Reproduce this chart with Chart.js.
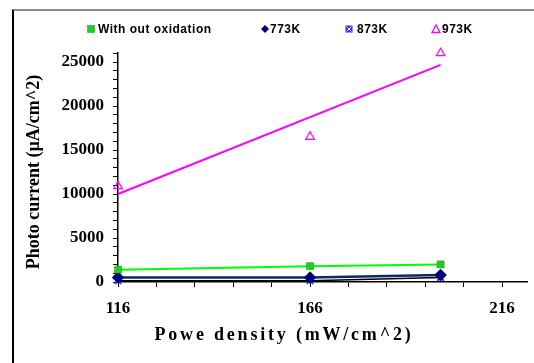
<!DOCTYPE html>
<html><head><meta charset="utf-8">
<script src="https://cdn.jsdelivr.net/npm/chart.js@4"></script>
<style>
html,body{margin:0;padding:0;background:#fff;overflow:hidden}
#frame{position:absolute;left:12px;top:9px;width:522px;height:354px;border-top:2px solid #8a8a8a;border-left:2px solid #000;box-sizing:border-box}
#wrap{position:absolute;left:12px;top:10px;width:522px;height:353px}
</style></head><body>
<div id="frame"></div>
<div id="wrap"><canvas id="c"></canvas></div>
<script>
const powerDensity = [116, 166, 200];
const withoutOxidation = [1400, 1800, 2000];
const k773 = [500, 500, 800];
const k873 = [150, 150, 500];
const k973 = [10900, 16500, 26000];
const xTickValues = [116, 166, 216];
const yTickValues = [0, 5000, 10000, 15000, 20000, 25000];
const seriesNames = ['With out oxidation', '773K', '873K', '973K'];
const xTitle = 'Powe density (mW/cm^2)';
const yTitle = 'Photo current (\u00b5A/cm^2)';

// linear trendline for 973K (least squares)
function fit(xs, ys){
  const n = xs.length, mx = xs.reduce((a,b)=>a+b)/n, my = ys.reduce((a,b)=>a+b)/n;
  let sxy=0, sxx=0; xs.forEach((x,i)=>{sxy+=(x-mx)*(ys[i]-my); sxx+=(x-mx)**2;});
  const m = sxy/sxx; return x => my + m*(x-mx);
}
const f973 = fit(powerDensity, k973);
const trendX = [powerDensity[0], powerDensity[powerDensity.length-1]];

const pts = a => powerDensity.map((x,i)=>({x, y:a[i]}));

const legendPlugin = {
  id:'customLegend',
  afterDraw(chart){
    const ctx = chart.ctx; ctx.save();
    ctx.font = 'bold 12px "Liberation Sans", Arial, sans-serif';
    ctx.letterSpacing = '0.5px';
    ctx.textBaseline = 'middle'; ctx.fillStyle = '#000';
    const y = 19;
    const items = [
      {mx:79, tx:86, draw:(x)=>{ctx.fillStyle='#22cc22';ctx.fillRect(x-3.5,y-3.5,7,7);ctx.strokeStyle='#119911';ctx.lineWidth=0.5;ctx.strokeRect(x-3.5,y-3.5,7,7);}},
      {mx:253, tx:258, draw:(x)=>{ctx.fillStyle='#000080';ctx.beginPath();ctx.moveTo(x,y-4);ctx.lineTo(x+4,y);ctx.lineTo(x,y+4);ctx.lineTo(x-4,y);ctx.closePath();ctx.fill();}},
      {mx:337, tx:345, draw:(x)=>{ctx.fillStyle='#2a2aff';ctx.fillRect(x-3.5,y-3.5,7,7);ctx.strokeStyle='#fff';ctx.lineWidth=1;ctx.beginPath();ctx.moveTo(x-2.5,y-2.5);ctx.lineTo(x+2.5,y+2.5);ctx.moveTo(x+2.5,y-2.5);ctx.lineTo(x-2.5,y+2.5);ctx.stroke();}},
      {mx:424, tx:430, draw:(x)=>{ctx.strokeStyle='#ff00ff';ctx.lineWidth=1.3;ctx.beginPath();ctx.moveTo(x,y-4);ctx.lineTo(x+4,y+3.5);ctx.lineTo(x-4,y+3.5);ctx.closePath();ctx.stroke();}}
    ];
    items.forEach((it,i)=>{ctx.save();it.draw(it.mx);ctx.restore();ctx.fillStyle='#000';ctx.fillText(seriesNames[i], it.tx, y+0.5);});
    // axis titles
    ctx.font = 'bold 18px "Liberation Serif", "Times New Roman", serif';
    ctx.letterSpacing = '2.8px';
    ctx.textAlign = 'center';
    ctx.fillText(xTitle, 272, 325);
    ctx.save();
    ctx.translate(22, 162); ctx.rotate(-Math.PI/2);
    ctx.letterSpacing = '0px';
    ctx.font = 'bold 18px "Liberation Serif", "Times New Roman", serif';
    ctx.fillText(yTitle, 0, 0);
    ctx.restore();
    ctx.restore();
  }
};

new Chart(document.getElementById('c'), {
  type:'scatter',
  data:{datasets:[
    {label:seriesNames[3]+' trend', data:trendX.map(x=>({x,y:f973(x)})), showLine:true, borderColor:'#ff00ff', borderWidth:2, pointRadius:0, order:5, clip:false},
    {label:seriesNames[0], data:pts(withoutOxidation), showLine:true, borderColor:'#00ff00', borderWidth:2, pointStyle:'rect', pointRadius:5, pointBackgroundColor:'#22cc22', pointBorderColor:'#119911', pointBorderWidth:0.5, clip:false},
    {label:seriesNames[1], data:pts(k773), showLine:true, borderColor:'#0a2a6a', borderWidth:2.5, pointStyle:'rectRot', pointRadius:4.5, pointBackgroundColor:'#000080', pointBorderColor:'#000080', clip:false},
    {label:seriesNames[2], data:pts(k873), showLine:true, borderColor:'#000000', borderWidth:1.5, pointStyle:'crossRot', pointRadius:4.5, pointBorderColor:'#2a2aff', pointBorderWidth:2, clip:false},
    {label:seriesNames[3], data:pts(k973), showLine:false, pointStyle:'triangle', pointRadius:5, pointBackgroundColor:'rgba(0,0,0,0)', pointBorderColor:'#ff00ff', pointBorderWidth:1.2, clip:false}
  ]},
  options:{
    responsive:true, maintainAspectRatio:false, animation:false,
    layout:{padding:{top:43.2, left:0, right:0, bottom:0}},
    plugins:{legend:{display:false}, tooltip:{enabled:false}},
    scales:{
      x:{type:'linear', min:116, max:222.5,
        afterBuildTicks(s){const t=[];for(let v=116;v<=216;v+=10)t.push({value:v});s.ticks=t;},
        afterFit(s){s.height=81;},
        border:{display:true,color:'#000',width:1.5},
        grid:{drawOnChartArea:false, drawTicks:true, tickLength:5, color:'#000', tickWidth:1},
        ticks:{autoSkip:false, maxRotation:0, padding:11, color:'#000',
          font:{family:'"Liberation Serif", "Times New Roman", serif', size:17, weight:'bold'},
          callback:(v)=>xTickValues.includes(v)?String(v):''}
      },
      y:{type:'linear', min:0, max:26000,
        afterBuildTicks(s){const t=[];for(let v=0;v<=26000;v+=1000)t.push({value:v});s.ticks=t;},
        afterFit(s){s.width=106;},
        border:{display:true,color:'#000',width:1.5},
        grid:{drawOnChartArea:false, drawTicks:true, tickLength:5, color:'#000', tickWidth:1},
        ticks:{autoSkip:false, padding:9, color:'#000',
          font:{family:'"Liberation Serif", "Times New Roman", serif', size:17, weight:'bold'},
          callback:(v)=>yTickValues.includes(v)?String(v):''}
      }
    }
  },
  plugins:[legendPlugin]
});
</script>
</body></html>
